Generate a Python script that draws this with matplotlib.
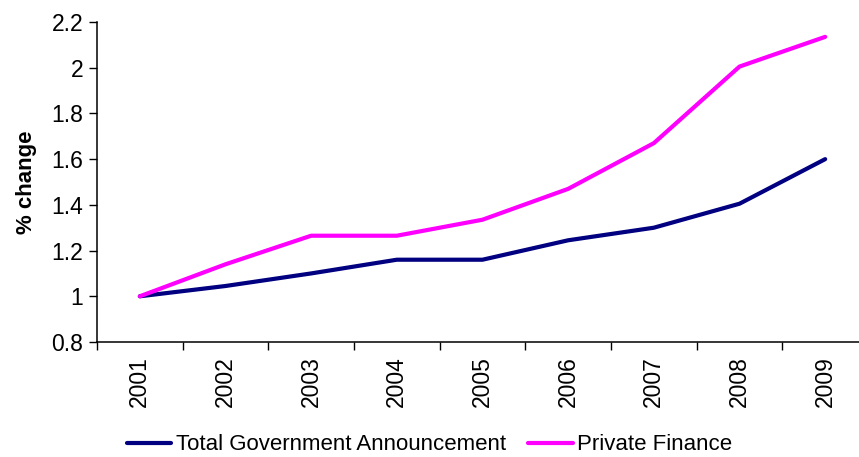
import numpy as np
import matplotlib.pyplot as plt
from matplotlib.ticker import FixedLocator, NullFormatter

# === Data ===
years = ["2001", "2002", "2003", "2004", "2005", "2006", "2007", "2008", "2009"]
government = [1.00, 1.045, 1.10, 1.16, 1.16, 1.245, 1.30, 1.405, 1.60]
private_finance = [1.00, 1.14, 1.265, 1.265, 1.335, 1.47, 1.67, 2.005, 2.135]
y_ticks = [0.8, 1.0, 1.2, 1.4, 1.6, 1.8, 2.0, 2.2]
y_tick_labels = ["0.8", "1", "1.2", "1.4", "1.6", "1.8", "2", "2.2"]

plt.rcParams['font.family'] = ['Liberation Sans', 'DejaVu Sans']

fig = plt.figure(figsize=(8.59, 4.57), dpi=100)
ax = fig.add_axes([97 / 859, 1 - 342 / 457, 771 / 859, 320 / 457])

x = np.arange(len(years))
ax.plot(x, government, color='#000080', lw=3, label='Total Government Announcement',
        solid_capstyle='round')
ax.plot(x, private_finance, color='#FF00FF', lw=3, label='Private Finance',
        solid_capstyle='round')

ax.set_xlim(-0.5, len(years) - 0.5)
ax.set_ylim(0.8, 2.2)
ax.set_yticks(y_ticks)
ax.set_yticklabels(y_tick_labels, fontsize=16.5)

# year labels at category centres, tick marks at category boundaries
ax.set_xticks(x)
ax.set_xticklabels(years, rotation=90, fontsize=16.5)
ax.tick_params(axis='x', which='major', length=0, pad=10)
ax.xaxis.set_minor_locator(FixedLocator(np.arange(-0.5, len(years), 1.0)))
ax.xaxis.set_minor_formatter(NullFormatter())
ax.tick_params(axis='x', which='minor', length=6, width=1, direction='out')
ax.tick_params(axis='y', length=6, width=1, direction='out', pad=4)

for side in ['top', 'right']:
    ax.spines[side].set_visible(False)
for side in ['left', 'bottom']:
    ax.spines[side].set_linewidth(1.1)

ax.set_ylabel("% change", fontsize=16, fontweight='bold', labelpad=10)

fig.legend(loc='center', bbox_to_anchor=(0.5, 1 - 445 / 457), ncol=2, frameon=False,
           fontsize=16, handlelength=2.0, handletextpad=0.2, columnspacing=1.0)

plt.savefig("out.png", dpi=100)
